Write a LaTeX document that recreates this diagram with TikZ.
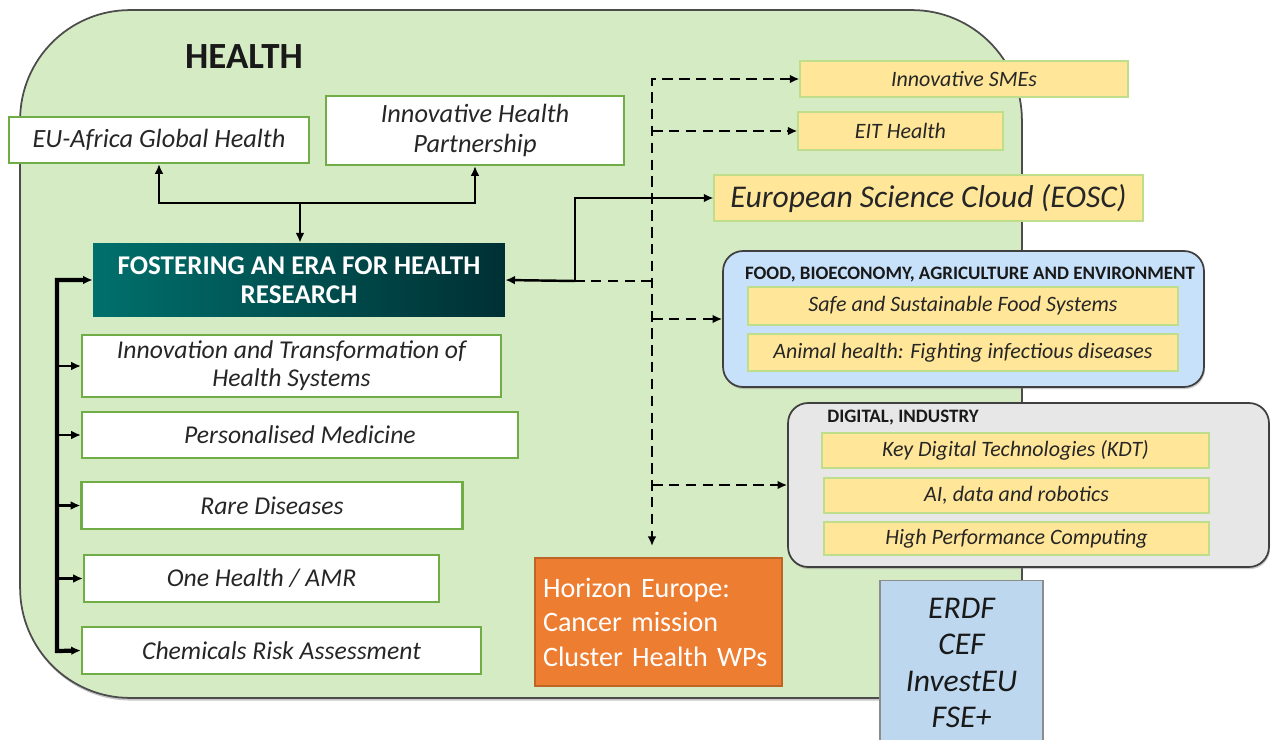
\documentclass[tikz,border=0pt]{standalone}
\usepackage{fontspec}
\setmainfont{Carlito}
\usetikzlibrary{arrows.meta,shadows}

\definecolor{panelgreen}{RGB}{213,235,195}
\definecolor{boxgreen}{RGB}{112,173,71}
\definecolor{boxyellow}{RGB}{255,230,153}
\definecolor{yellowedge}{RGB}{190,222,140}
\definecolor{foodblue}{RGB}{200,225,250}
\definecolor{digigray}{RGB}{231,231,231}
\definecolor{fundblue}{RGB}{189,215,238}
\definecolor{horange}{RGB}{237,125,49}
\definecolor{eraleft}{RGB}{0,112,108}
\definecolor{eraright}{RGB}{0,48,52}

\tikzset{
  >={Latex[length=5.5pt,width=5pt]},
  topic/.style={draw=boxgreen, line width=1.3pt, fill=white, text=black!85,
    font=\fontsize{14.6}{16}\selectfont\itshape, align=center, inner sep=0pt},
  partner/.style={draw=yellowedge, line width=0.7pt, fill=boxyellow, text=black!85,
    font=\fontsize{12.5}{15}\selectfont\itshape, inner sep=0pt},
  group/.style={draw=black!75, line width=1pt, rounded corners=0.4cm,
    drop shadow={opacity=0.4, shadow xshift=0.6pt, shadow yshift=-1.2pt}},
  grouptitle/.style={font=\fontsize{10.8}{12}\selectfont\bfseries, text=black!90, inner sep=0pt},
  conn/.style={line width=1.4pt},
  bus/.style={line width=2.4pt},
  dashconn/.style={line width=1.6pt, dash pattern=on 6pt off 3.6pt},
}

\begin{document}
\begin{tikzpicture}[x=0.02cm, y=-0.02cm]
	\path[use as bounding box, clip] (0,0) rectangle (1271,740);

	% health panel
	\node[draw=black!70, line width=1pt, fill=panelgreen, rounded corners=2.2cm,
	      minimum width=20.04cm, minimum height=13.76cm,
	      drop shadow={opacity=0.45, shadow xshift=0.5pt, shadow yshift=-1.5pt}] (health) at (521,354) {};
	\node[font=\fontsize{21}{23}\selectfont\bfseries, text=black!90] (healthtitle) at (244,57) {HEALTH};

	% partnerships above
	\node[topic, minimum width=6cm, minimum height=0.92cm, font=\fontsize{15}{16.5}\selectfont\itshape] (eu) at (159,140) {EU-Africa Global Health};
	\node[topic, minimum width=5.96cm, minimum height=1.38cm, font=\fontsize{15}{17}\selectfont\itshape] (ihp) at (475,130.5) {Innovative Health\\Partnership};

	\node[shading=axis, left color=eraleft, right color=eraright, draw=none,
	      minimum width=8.24cm, minimum height=1.48cm, align=center, text=white,
	      font=\fontsize{15.4}{16.6}\selectfont\bfseries] (era) at (299,280) {FOSTERING AN ERA FOR HEALTH\\RESEARCH};

	% topics on the left
	\node[topic, minimum width=8.38cm, minimum height=1.24cm] (inno) at (291.5,366) {Innovation and Transformation of\\Health Systems};
	\node[topic, minimum width=8.72cm, minimum height=0.92cm] (pers) at (300,435) {Personalised Medicine};
	\node[topic, minimum width=7.62cm, minimum height=0.94cm] (rare) at (272,505.5) {Rare Diseases};
	\node[topic, minimum width=7.1cm, minimum height=0.94cm] (onehealth) at (261.5,578.5) {One Health / AMR};
	\node[topic, minimum width=7.98cm, minimum height=0.94cm] (chem) at (281.5,650.5) {Chemicals Risk Assessment};

	% links on the right
	\node[partner, minimum width=6.56cm, minimum height=0.72cm] (sme) at (964,79) {Innovative SMEs};
	\node[partner, minimum width=4.1cm, minimum height=0.76cm] (eit) at (900.5,131) {EIT Health};
	\node[partner, minimum width=8.58cm, minimum height=0.92cm, font=\fontsize{18}{20}\selectfont\itshape] (eosc) at (928.5,198) {European Science Cloud (EOSC)};

	\node[group, fill=foodblue, minimum width=9.62cm, minimum height=2.72cm] (food) at (963.5,319) {};
	\node[grouptitle] (foodtitle) at (970,275) {FOOD, BIOECONOMY, AGRICULTURE AND ENVIRONMENT};
	\node[partner, minimum width=8.6cm, minimum height=0.76cm] (safe) at (963,306) {Safe and Sustainable Food Systems};
	\node[partner, minimum width=8.6cm, minimum height=0.74cm] (animal) at (963,352.5) {Animal health: Fighting infectious diseases};

	\node[group, fill=digigray, minimum width=9.62cm, minimum height=3.28cm] (digital) at (1028.5,485) {};
	\node[grouptitle, anchor=west] (digitaltitle) at (827,418) {DIGITAL, INDUSTRY};
	\node[partner, minimum width=7.74cm, minimum height=0.7cm] (kdt) at (1015.5,450.5) {Key Digital Technologies (KDT)};
	\node[partner, minimum width=7.7cm, minimum height=0.7cm] (ai) at (1016.5,495.5) {AI, data and robotics};
	\node[partner, minimum width=7.7cm, minimum height=0.66cm] (hpc) at (1016.5,538.5) {High Performance Computing};

	\node[draw=horange!80!black, line width=0.8pt, fill=horange, text=white, align=left,
	      minimum width=4.94cm, minimum height=2.56cm, text width=4.62cm, inner xsep=0.16cm,
	      font=\fontsize{16}{19.6}\selectfont] (horizon) at (658.5,622) {Horizon Europe:\\Cancer mission\\Cluster Health WPs};
	\node[draw=black!45, line width=0.8pt, fill=fundblue, align=center, text=black!90,
	      minimum width=3.26cm, minimum height=3.3cm,
	      font=\fontsize{18}{20.6}\selectfont\itshape] (erdf) at (961.5,663) {ERDF\\CEF\\InvestEU\\FSE+};

	% connectors
	\coordinate (top) at (300,203);
	\coordinate (busend) at (57,651);
	\coordinate (split) at (575,281);
	\coordinate (dtop) at (652,79);
	\coordinate (dbot) at (652,546);

	\draw[conn,->] (top) -| (eu.south);
	\draw[conn,->] (top) -| (ihp.south);
	\draw[conn,->] (top) -- (top |- era.north);

	\draw[bus,<->] (era.west) -| (busend) -- (chem.west);
	\draw[conn,->] (busend |- inno.west) -- (inno.west);
	\draw[conn,->] (busend |- pers.west) -- (pers.west);
	\draw[conn,->] (busend |- rare.west) -- (rare.west);
	\draw[conn,->] (busend |- onehealth.west) -- (onehealth.west);

	\draw[conn,->] (split) -- (era.east);
	\draw[conn,->] (split) |- (eosc.west);

	\draw[dashconn,<->] (sme.west) -- (dtop) -- (dbot);
	\draw[dashconn,->] (dtop |- eit.west) -- (eit.west);
	\draw[dashconn] (dtop |- split) -- (split);
	\draw[dashconn,->] (dtop |- food.west) -- (food.west);
	\draw[dashconn,->] (dtop |- digital.west) -- (digital.west);
\end{tikzpicture}
\end{document}
